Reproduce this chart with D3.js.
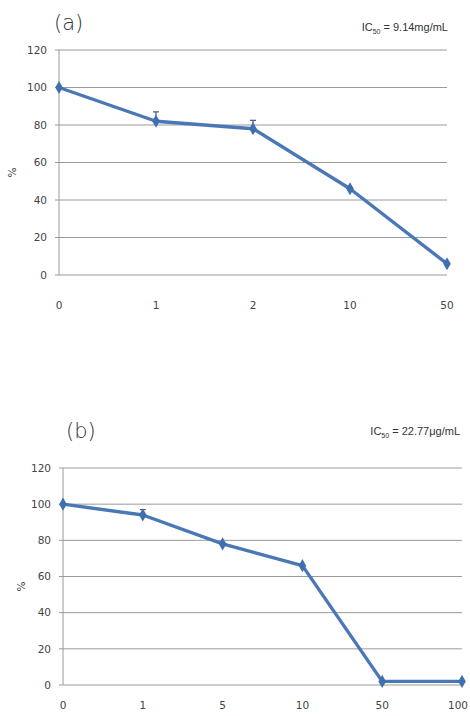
<!DOCTYPE html>
<html lang="en">
<head>
  <meta charset="utf-8" />
  <title>Viability charts</title>
  <script src="https://d3js.org/d3.v7.min.js"></script>
  <style>
    body { margin: 0; padding: 0; background: #ffffff; font-family: "DejaVu Sans", Arial, sans-serif; }
    .grid line { stroke: #9a9a9a; stroke-width: 1; }
    .tick-label { font-size: 10.5px; fill: #444; }
    .series { fill: none; stroke: #4a78b6; stroke-width: 3.4; stroke-linejoin: round; }
    .marker { fill: #3f6fae; }
    .err { stroke: #4a5570; stroke-width: 1.2; }
  </style>
</head>
<body>
<svg id="fig" width="470" height="716"></svg>
<script>
// ---- data ----
const yTicks = [0, 20, 40, 60, 80, 100, 120];

const aDoses  = ["0", "1", "2", "10", "50"];
const aValues = [100, 82, 78, 46, 6];
const aErrors = [0, 5, 4.5, 0, 0];
const aIC50   = "9.14mg/mL";

const bDoses  = ["0", "1", "5", "10", "50", "100"];
const bValues = [100, 94, 78, 66, 2, 2];
const bErrors = [0, 3, 0, 0, 0, 0];
const bIC50   = "22.77\u03bcg/mL";

const svg = d3.select("#fig");
const pageW = 470;

function drawPanel(opt) {
  const g = svg.append("g");

  const x = d3.scalePoint().domain(opt.doses).range([opt.x0, opt.x1]).padding(0);
  const y = d3.scaleLinear().domain([0, 120]).range([opt.y0, opt.y1]);

  // horizontal gridlines
  g.append("g").attr("class", "grid")
    .selectAll("line").data(yTicks).enter().append("line")
      .attr("x1", opt.x0 - 4).attr("x2", opt.x1)
      .attr("y1", d => y(d)).attr("y2", d => y(d));

  // y axis line
  g.append("line")
    .attr("x1", opt.x0).attr("x2", opt.x0)
    .attr("y1", y(120)).attr("y2", y(0))
    .attr("stroke", "#9a9a9a");

  // y tick labels
  g.selectAll(".ylab").data(yTicks).enter().append("text")
    .attr("class", "tick-label")
    .attr("x", opt.x0 - 12).attr("y", d => y(d))
    .attr("dy", "0.35em").attr("text-anchor", "end")
    .text(d => d);

  // x tick labels (keep the last one inside the page)
  g.selectAll(".xlab").data(opt.doses).enter().append("text")
    .attr("class", "tick-label")
    .attr("x", d => Math.min(x(d), pageW - 12)).attr("y", opt.xLabelY)
    .attr("dy", "0.35em").attr("text-anchor", "middle")
    .text(d => d);

  // "%" axis title
  g.append("text")
    .attr("class", "tick-label")
    .attr("transform", `translate(${opt.pctX},${(y(0) + y(120)) / 2 + 10}) rotate(-90)`)
    .attr("text-anchor", "middle")
    .text("%");

  const pts = opt.doses.map((d, i) => ({ d: d, v: opt.values[i], e: opt.errors[i] }));

  // error bars (upper only)
  const eb = g.selectAll(".eb").data(pts.filter(p => p.e > 0)).enter().append("g");
  eb.append("line").attr("class", "err")
    .attr("x1", p => x(p.d)).attr("x2", p => x(p.d))
    .attr("y1", p => y(p.v)).attr("y2", p => y(p.v + p.e));
  eb.append("line").attr("class", "err")
    .attr("x1", p => x(p.d) - 3).attr("x2", p => x(p.d) + 3)
    .attr("y1", p => y(p.v + p.e)).attr("y2", p => y(p.v + p.e));

  // series line
  g.append("path").datum(pts).attr("class", "series")
    .attr("d", d3.line().x(p => x(p.d)).y(p => y(p.v)));

  // diamond markers
  g.selectAll(".marker").data(pts).enter().append("path")
    .attr("class", "marker")
    .attr("transform", p => `translate(${x(p.d)},${y(p.v)})`)
    .attr("d", d3.symbol(d3.symbolDiamond, 50));

  // panel label
  g.append("text")
    .attr("x", opt.labelX).attr("y", opt.labelY)
    .attr("font-size", 21).attr("fill", "#333")
    .attr("font-family", "DejaVu Sans")
    .style("font-weight", 300)
    .text(opt.label);

  // IC50 note
  const t = g.append("text")
    .attr("x", opt.icX).attr("y", opt.icY)
    .attr("text-anchor", "end")
    .attr("font-size", 11).attr("fill", "#333")
    .attr("font-family", "Liberation Sans Narrow, Liberation Sans, Arial");
  t.append("tspan").text("IC");
  t.append("tspan").attr("font-size", 7).attr("dy", 3).text("50");
  t.append("tspan").attr("dy", -3).text(" = " + opt.ic);
}

drawPanel({
  doses: aDoses, values: aValues, errors: aErrors, ic: aIC50,
  x0: 59, x1: 447, y0: 275, y1: 50,
  xLabelY: 305, pctX: 16,
  label: "(a)", labelX: 54, labelY: 30,
  icX: 448, icY: 31
});

drawPanel({
  doses: bDoses, values: bValues, errors: bErrors, ic: bIC50,
  x0: 63, x1: 462, y0: 685, y1: 468,
  xLabelY: 705, pctX: 25,
  label: "(b)", labelX: 66, labelY: 438,
  icX: 460, icY: 435
});
</script>
</body>
</html>
